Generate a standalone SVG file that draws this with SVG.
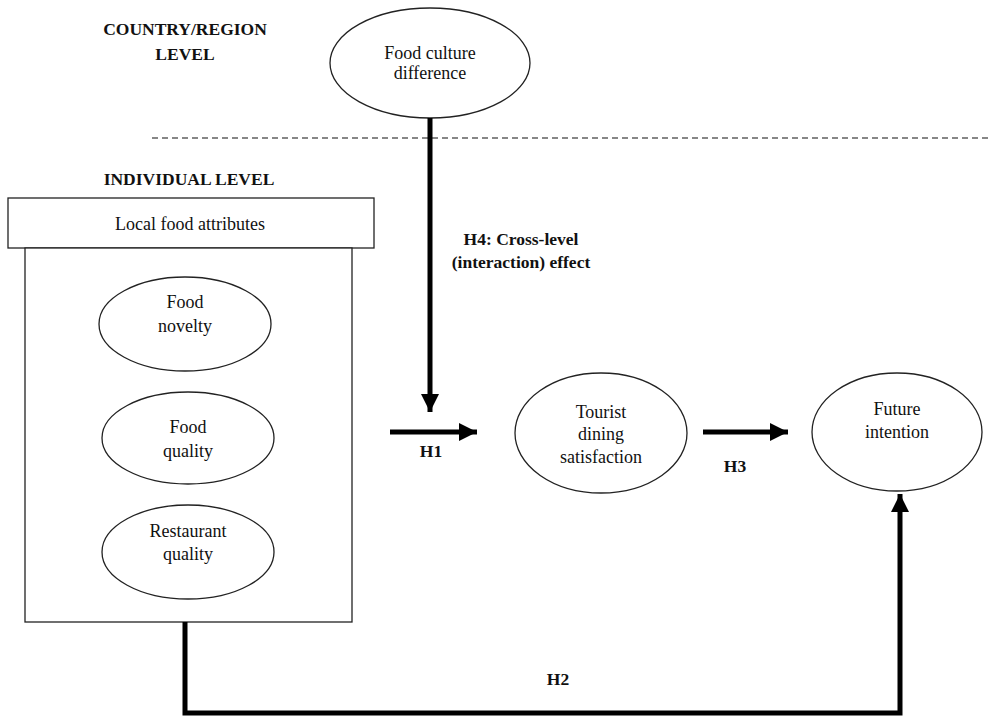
<svg xmlns="http://www.w3.org/2000/svg" width="991" height="717" viewBox="0 0 991 717" font-family="'Liberation Serif', 'Times New Roman', serif">
<defs>
<style>
text{font-family:'Liberation Serif','Times New Roman',serif;fill:#111;text-anchor:middle}
.n{font-size:18px}
.b{font-size:17.5px;font-weight:bold}
.sh{fill:#fff;stroke:#222;stroke-width:1.3}
.c{fill:none;stroke:#000;stroke-width:5}
</style>
<marker id="ah" viewBox="0 0 10 10" refX="10" refY="5" markerWidth="4" markerHeight="3.6" markerUnits="strokeWidth" orient="auto">
<path d="M0,0 L10,5 L0,10 z" fill="#000"/>
</marker>
</defs>
<rect width="991" height="717" fill="#fff"/>
<text class="b" x="185" y="35">COUNTRY/REGION</text>
<text class="b" x="185" y="60">LEVEL</text>
<text class="b" x="189" y="185">INDIVIDUAL LEVEL</text>
<line x1="152" y1="138" x2="991" y2="138" stroke="#111" stroke-width="1.2" stroke-dasharray="6,4"/>
<g id="food-culture">
<ellipse class="sh" cx="430" cy="63" rx="100" ry="55"/>
<text class="n" x="430" y="59">Food culture</text>
<text class="n" x="430" y="79">difference</text>
</g>
<g id="local-food">
<rect class="sh" x="8" y="198" width="366" height="50"/>
<text class="n" x="190" y="230">Local food attributes</text>
<rect class="sh" x="25" y="248" width="327" height="374"/>
</g>
<g id="food-novelty">
<ellipse class="sh" cx="185" cy="324" rx="86" ry="47"/>
<text class="n" x="185" y="308">Food</text>
<text class="n" x="185" y="332">novelty</text>
</g>
<g id="food-quality">
<ellipse class="sh" cx="188" cy="438" rx="86" ry="46"/>
<text class="n" x="188" y="433">Food</text>
<text class="n" x="188" y="457">quality</text>
</g>
<g id="restaurant-quality">
<ellipse class="sh" cx="188" cy="552" rx="86" ry="47"/>
<text class="n" x="188" y="537">Restaurant</text>
<text class="n" x="188" y="560">quality</text>
</g>
<g id="tourist-satisfaction">
<ellipse class="sh" cx="601" cy="433" rx="86" ry="60"/>
<text class="n" x="601" y="418">Tourist</text>
<text class="n" x="601" y="440">dining</text>
<text class="n" x="601" y="463">satisfaction</text>
</g>
<g id="future-intention">
<ellipse class="sh" cx="897" cy="432" rx="85" ry="59"/>
<text class="n" x="897" y="415">Future</text>
<text class="n" x="897" y="438">intention</text>
</g>
<g id="connectors">
<path class="c" d="M430,118 V412" marker-end="url(#ah)"/>
<path class="c" d="M390,432 H477" marker-end="url(#ah)"/>
<path class="c" d="M703,432 H788" marker-end="url(#ah)"/>
<path class="c" d="M185,622 V713 H900 V494" marker-end="url(#ah)"/>
<text class="b" x="521" y="245">H4: Cross-level</text>
<text class="b" x="521" y="268">(interaction) effect</text>
<text class="b" x="431" y="457">H1</text>
<text class="b" x="735" y="472">H3</text>
<text class="b" x="558" y="685">H2</text>
</g>
</svg>
